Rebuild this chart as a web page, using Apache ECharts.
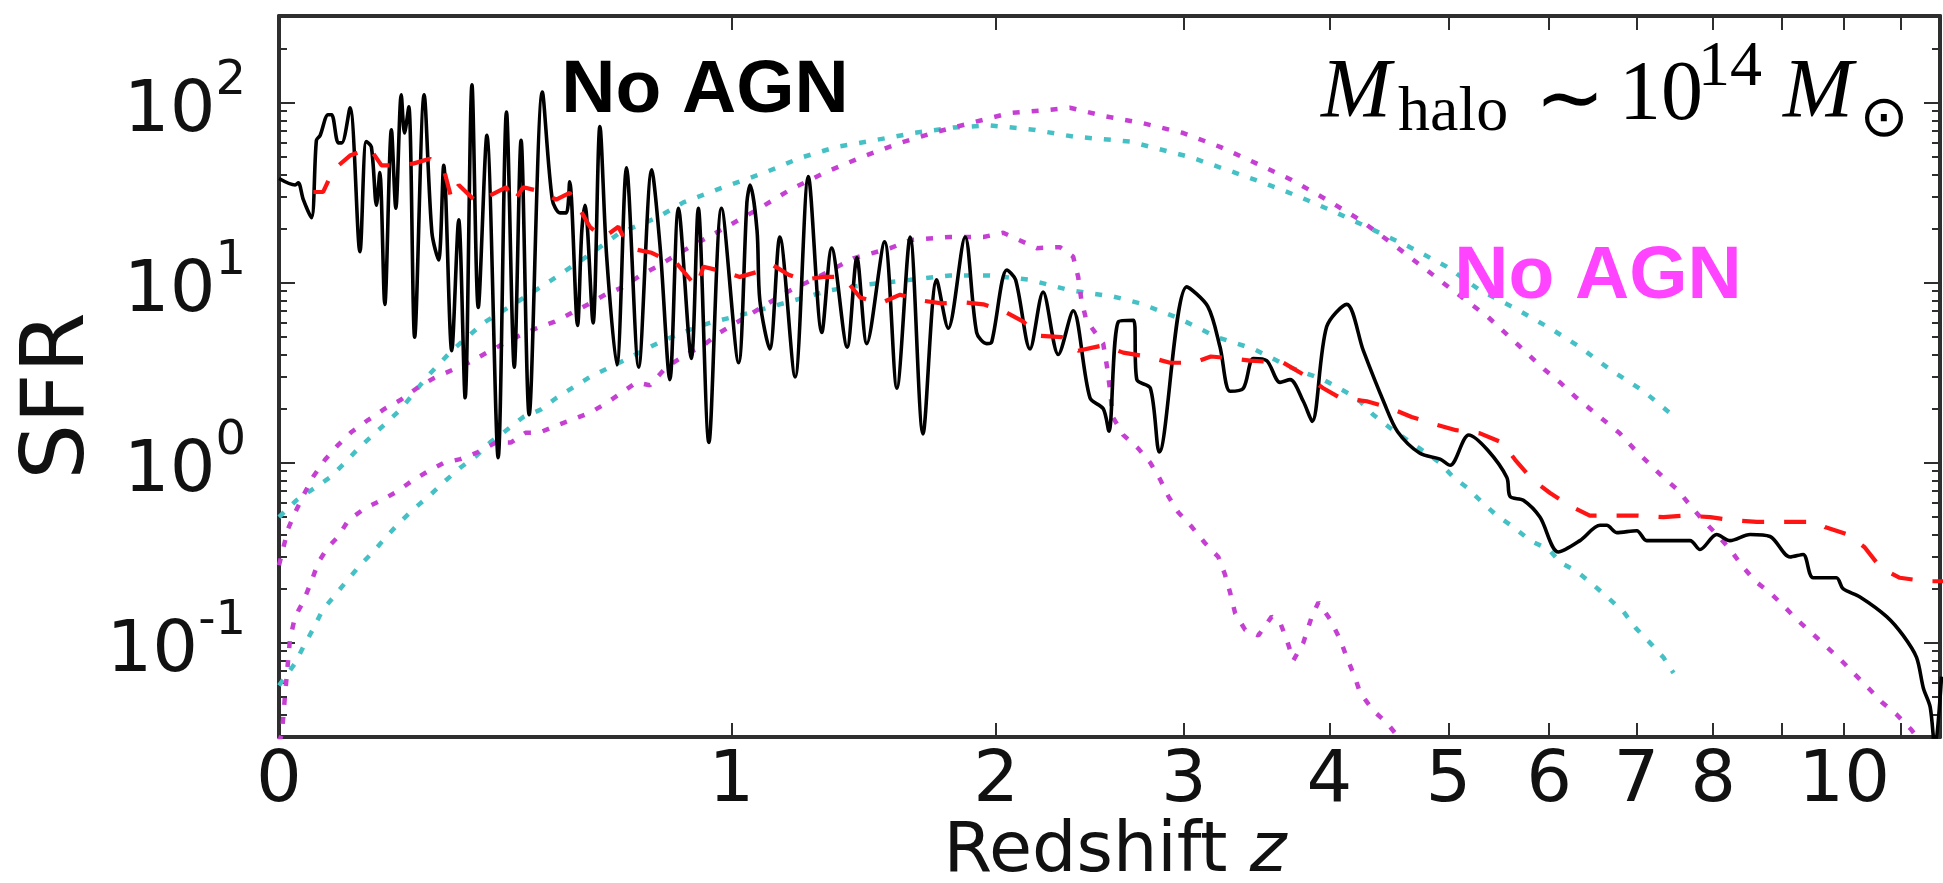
<!DOCTYPE html>
<html><head><meta charset="utf-8">
<script src="https://cdn.jsdelivr.net/npm/echarts@6/dist/echarts.min.js"></script>
<style>html,body{margin:0;padding:0;background:#fff;}#c{width:1943px;height:883px;}</style>
</head><body><div id="c"></div><script>
// ---- data: [redshift z, SFR] ----
const sfrNoAgn = [
[0.000,38],[0.025,35],[0.030,36],[0.038,29],[0.051,23],[0.059,62],[0.065,66],[0.078,86],[0.084,86],[0.095,60],
[0.101,60],[0.115,94],[0.132,14.9],[0.143,61],[0.152,57],[0.161,27],[0.167,41],[0.176,7.6],[0.188,71],[0.196,26],
[0.206,111],[0.212,68],[0.220,95],[0.231,5.0],[0.249,111],[0.264,19],[0.277,13.4],[0.287,45],[0.303,4.2],[0.317,22.4],
[0.330,2.3],[0.344,126],[0.357,7.3],[0.375,66],[0.399,1.07],[0.417,89],[0.434,3.4],[0.449,62],[0.467,1.85],[0.497,115],
[0.520,29],[0.538,24.5],[0.553,24.5],[0.561,36.5],[0.580,5.8],[0.590,19],[0.598,27],[0.618,6.0],[0.635,74],[0.652,14],
[0.678,3.5],[0.703,43.6],[0.735,3.4],[0.770,42.5],[0.793,15.8],[0.820,2.9],[0.844,26],[0.881,3.8],[0.901,26],[0.932,1.3],
[0.970,26],[1.022,3.6],[1.048,28],[1.058,35],[1.080,19.6],[1.089,8.0],[1.121,4.3],[1.154,18],[1.205,3.0],[1.250,39],
[1.297,5.3],[1.332,15.6],[1.388,4.4],[1.424,13.8],[1.461,4.6],[1.529,16.9],[1.577,2.6],[1.630,18],[1.682,1.45],[1.739,10.4],
[1.788,5.6],[1.861,18],[1.912,5.3],[1.957,4.6],[1.980,4.7],[2.050,11.8],[2.091,10.4],[2.160,4.3],[2.224,8.9],[2.300,4.0],
[2.376,7.0],[2.464,2.3],[2.535,2.0],[2.566,1.5],[2.619,6.1],[2.703,6.2],[2.722,2.9],[2.800,2.6],[2.852,1.15],[3.018,9.5],
[3.149,7.4],[3.228,4.4],[3.294,2.5],[3.382,2.6],[3.450,3.8],[3.541,3.7],[3.635,2.8],[3.707,2.9],[3.803,2.2],[3.869,1.7],
[3.978,5.7],[4.134,7.6],[4.266,4.2],[4.437,2.15],[4.550,1.49],[4.743,1.13],[4.923,1.05],[5.015,0.97],[5.189,1.43],[5.370,1.18],
[5.561,0.83],[5.594,0.65],[5.729,0.62],[5.902,0.50],[6.100,0.32],[6.339,0.37],[6.568,0.45],[6.646,0.45],[6.764,0.41],[7.006,0.42],
[7.128,0.37],[7.687,0.37],[7.820,0.33],[8.049,0.40],[8.235,0.37],[8.524,0.40],[8.820,0.39],[9.125,0.30],[9.330,0.31],[9.490,0.23],
[9.870,0.23],[9.980,0.20],[10.27,0.18],[10.74,0.14],[11.04,0.11],[11.29,0.083],[11.42,0.056],[11.55,0.044],[11.64,0.026],[11.77,0.065]
];
const sfrSmoothed = [
[0.054,32],[0.070,32],[0.087,42.5],[0.115,51],[0.149,56],[0.170,45],[0.197,45],[0.228,46],[0.260,49],[0.289,41],
[0.303,29],[0.317,35],[0.354,28],[0.375,30],[0.417,34],[0.431,28],[0.454,34],[0.497,32],[0.529,29],[0.561,31.6],
[0.586,25.5],[0.610,20.5],[0.643,17.8],[0.682,20.5],[0.699,17.3],[0.729,15.3],[0.770,14.7],[0.797,13.8],[0.838,12.9],[0.896,9.5],
[0.916,12.3],[0.980,11.5],[1.026,10.8],[1.080,11.5],[1.130,12.6],[1.183,11.1],[1.233,10.4],[1.303,10.8],[1.374,10.8],[1.436,8.3],
[1.512,7.7],[1.590,8.6],[1.670,8.0],[1.760,7.7],[1.853,7.8],[1.942,7.6],[2.033,7.0],[2.128,6.1],[2.193,5.1],[2.317,5.0],
[2.402,4.2],[2.535,4.5],[2.645,4.1],[2.780,3.9],[2.916,3.6],[3.060,3.6],[3.169,3.9],[3.316,3.8],[3.427,3.7],[3.659,3.6],
[3.803,3.1],[3.953,2.6],[4.081,2.3],[4.294,2.2],[4.466,2.04],[4.670,1.8],[4.860,1.65],[5.070,1.52],[5.297,1.46],[5.510,1.3],
[5.645,1.04],[5.820,0.81],[6.010,0.68],[6.220,0.58],[6.450,0.51],[6.740,0.51],[7.000,0.51],[7.340,0.50],[7.610,0.51],[7.960,0.50],
[8.260,0.48],[8.620,0.47],[8.920,0.47],[9.330,0.47],[9.550,0.47],[9.680,0.44],[10.06,0.40],[10.35,0.34],[10.64,0.26],[10.98,0.23],
[11.45,0.22],[11.80,0.22]
];
const cyanUpper = [
[0,0.5],[0.027,0.62],[0.057,0.73],[0.081,0.83],[0.106,1.0],[0.129,1.2],[0.155,1.43],[0.179,1.67],[0.206,2.0],[0.254,3.0],
[0.303,4.2],[0.368,6.0],[0.439,7.8],[0.519,10.4],[0.602,14],[0.686,19],[0.784,23],[0.858,28],[0.975,34],[1.105,41],
[1.222,49.5],[1.350,57],[1.490,62],[1.643,68],[1.810,73],[1.972,75],[2.176,71],[2.376,65],[2.684,61],[2.800,57],
[3.039,50],[3.272,42.5],[3.519,36],[3.779,30],[4.055,24.5],[4.347,19.7],[4.656,15.8],[4.984,12.3],[5.297,9.1],[5.628,7.3],
[6.010,5.6],[6.339,4.4],[6.685,3.3],[7.09,2.5],[7.52,1.75]
];
const cyanLower = [
[0,0.058],[0.025,0.077],[0.038,0.095],[0.054,0.12],[0.068,0.15],[0.087,0.18],[0.109,0.22],[0.132,0.27],[0.155,0.32],[0.179,0.39],
[0.204,0.47],[0.231,0.56],[0.260,0.66],[0.289,0.79],[0.320,0.94],[0.354,1.1],[0.382,1.3],[0.414,1.5],[0.454,1.8],[0.492,1.97],
[0.53,2.3],[0.610,3.0],[0.695,3.7],[0.793,4.7],[0.887,5.6],[0.935,6.0],[1.053,6.8],[1.178,7.8],[1.326,9.1],[1.461,9.8],
[1.630,10.4],[1.796,11.0],[1.972,11.0],[2.160,10.4],[2.359,9.1],[2.590,8.4],[2.741,7.7],[2.963,6.4],[3.207,5.0],[3.450,4.3],
[3.707,3.4],[3.953,2.9],[4.211,2.3],[4.347,1.85],[4.522,1.5],[4.743,1.2],[4.923,1.0],[5.046,0.83],[5.172,0.73],[5.297,0.62],
[5.460,0.51],[5.628,0.44],[5.80,0.37],[6.0,0.33],[6.118,0.28],[6.30,0.25],[6.49,0.21],[6.65,0.18],[6.84,0.15],[7.0,0.12],
[7.17,0.10],[7.34,0.083],[7.47,0.068]
];
const magentaUpper = [
[0,0.27],[0.014,0.43],[0.025,0.53],[0.038,0.66],[0.054,0.84],[0.073,1.04],[0.095,1.26],[0.118,1.49],[0.146,1.73],[0.176,2.0],
[0.206,2.25],[0.235,2.6],[0.267,2.95],[0.337,3.6],[0.375,4.1],[0.411,4.6],[0.446,5.1],[0.484,5.6],[0.526,6.1],[0.565,6.8],
[0.610,7.7],[0.652,8.7],[0.695,9.5],[0.739,11],[0.784,12.3],[0.830,14],[0.876,15.8],[0.926,17.8],[0.975,20],[1.080,25.5],
[1.189,33],[1.315,41.5],[1.449,50.5],[1.590,60],[1.739,69],[1.897,78],[2.065,88],[2.258,91.5],[2.359,94],[2.552,84],
[2.760,77],[2.997,68],[3.228,57],[3.473,46],[3.719,37.3],[3.978,29],[4.239,22.4],[4.522,16.2],[4.801,11.8],[5.071,8.8],
[5.370,6.5],[5.661,4.6],[5.95,3.3],[6.118,2.8],[6.30,2.3],[6.45,2.0],[6.80,1.46],[6.97,1.2],[7.15,1.0],[7.34,0.83],
[7.52,0.71],[7.69,0.58],[7.86,0.48],[8.05,0.40],[8.24,0.33],[8.40,0.27],[8.60,0.22],[8.82,0.19],[9.03,0.16],[9.23,0.135],
[9.46,0.114],[9.71,0.095],[9.95,0.08],[10.20,0.066],[10.42,0.056],[10.65,0.047],[10.92,0.04],[11.19,0.033],[11.30,0.030]
];
const magentaLower = [
[0,0.028],[0.004,0.031],[0.007,0.04],[0.009,0.05],[0.017,0.105],[0.025,0.14],[0.038,0.17],[0.051,0.22],[0.062,0.28],[0.078,0.34],
[0.095,0.39],[0.112,0.48],[0.141,0.56],[0.170,0.62],[0.197,0.69],[0.225,0.79],[0.254,0.89],[0.287,1.0],[0.320,1.05],[0.354,1.14],
[0.395,1.3],[0.427,1.3],[0.459,1.47],[0.489,1.47],[0.526,1.6],[0.565,1.73],[0.610,1.9],[0.652,2.15],[0.729,2.8],[0.765,2.7],
[0.810,3.4],[0.866,4.0],[0.916,4.5],[0.965,5.3],[1.053,6.6],[1.172,8.8],[1.285,10.8],[1.411,13.7],[1.551,15.6],[1.630,17.3],
[1.796,18],[1.942,18],[2.033,19],[2.193,15.6],[2.308,15.8],[2.376,14],[2.402,10.8],[2.419,8.0],[2.445,6.2],[2.535,4.6],
[2.556,3.4],[2.571,2.6],[2.587,1.8],[2.645,1.43],[2.731,1.2],[2.800,1.0],[2.857,0.81],[2.907,0.65],[2.967,0.53],[3.05,0.44],
[3.13,0.36],[3.217,0.30],[3.26,0.24],[3.294,0.19],[3.327,0.146],[3.394,0.118],[3.484,0.11],[3.576,0.14],[3.635,0.13],[3.683,0.104],
[3.731,0.08],[3.803,0.1],[3.866,0.14],[3.916,0.168],[4.005,0.135],[4.081,0.105],[4.134,0.083],[4.20,0.064],[4.239,0.053],[4.347,0.042],
[4.458,0.036],[4.556,0.030],[4.6,0.028]
];
// ---- axes ----
const xTickZ = [0,1,2,3,4,5,6,7,8,9,10,11];
const xLabelZ = [0,1,2,3,4,5,6,7,8,10];
const zRange = [0, 11.74];
const yRange = [0.03, 304];
const yMajor = [0.1, 1, 10, 100];
const yMinor = [0.03,0.04,0.05,0.06,0.07,0.08,0.09,0.2,0.3,0.4,0.5,0.6,0.7,0.8,0.9,2,3,4,5,6,7,8,9,20,30,40,50,60,70,80,90,200,300];

const toXY = arr => arr.map(p => [1 + p[0], p[1]]);
const AX = '#2e2e2e';
const TXT = '#111';

function xAxisDef(pos, showLabel) {
  return {
    type: 'log', logBase: 10, min: 1 + zRange[0], max: 1 + zRange[1], position: pos,
    axisLine: { show: true, lineStyle: { color: AX, width: 4 } },
    axisTick: { show: true, inside: true, length: 14, customValues: xTickZ.map(z => 1 + z), lineStyle: { color: AX, width: 2 } },
    axisLabel: showLabel ? {
      show: true, customValues: xLabelZ.map(z => 1 + z),
      formatter: v => String(Math.round(v - 1)),
      fontSize: 72, fontFamily: 'DejaVu Sans', color: TXT, margin: 9
    } : { show: false },
    splitLine: { show: false }, minorTick: { show: false }, minorSplitLine: { show: false }
  };
}
function yAxisDef(pos, major, showLabel) {
  const def = {
    type: 'log', logBase: 10, min: yRange[0], max: yRange[1], position: pos,
    axisLine: { show: major, lineStyle: { color: AX, width: 4 } },
    axisTick: { show: true, inside: true, length: major ? 16 : 8, customValues: major ? yMajor : yMinor, lineStyle: { color: AX, width: 2 } },
    axisLabel: { show: false },
    splitLine: { show: false }, minorTick: { show: false }, minorSplitLine: { show: false }
  };
  if (showLabel) {
    def.axisLabel = {
      show: true, customValues: yMajor, margin: 33,
      formatter: v => '{b|10}{s|' + Math.round(Math.log10(v)) + '}',
      rich: {
        b: { fontSize: 72, fontFamily: 'DejaVu Sans', color: TXT, verticalAlign: 'bottom' },
        s: { fontSize: 48, fontFamily: 'DejaVu Sans', color: TXT, verticalAlign: 'top', padding: [0, 0, 42, 0] }
      }
    };
  }
  return def;
}
function lineSeries(data, color, width, type, z, smooth) {
  return {
    type: 'line', data: toXY(data), xAxisIndex: 0, yAxisIndex: 0,
    showSymbol: false, symbol: 'none', smooth: smooth || false, clip: true, z: z,
    lineStyle: { color: color, width: width, type: type, cap: 'butt' }
  };
}
const CYAN = '#45c1c6', MAG = '#c63fd3';
const chart = echarts.init(document.getElementById('c'), null, { renderer: 'canvas' });
chart.setOption({
  animation: false,
  backgroundColor: '#ffffff',
  grid: { left: 279, right: 3, top: 16, bottom: 146, containLabel: false },
  xAxis: [xAxisDef('bottom', true), xAxisDef('top', false)],
  yAxis: [yAxisDef('left', true, true), yAxisDef('left', false, false), yAxisDef('right', true, false), yAxisDef('right', false, false)],
  series: [
    lineSeries(cyanUpper, CYAN, 4.5, [7, 12], 2),
    lineSeries(cyanLower, CYAN, 4.5, [7, 12], 2),
    lineSeries(magentaUpper, MAG, 4.5, [7, 12], 3),
    lineSeries(magentaLower, MAG, 4.5, [7, 12], 3),
    lineSeries(sfrNoAgn, '#000000', 3.6, 'solid', 4, 0.3),
    lineSeries(sfrSmoothed, '#ff1414', 4.2, [22, 20], 5)
  ],
  graphic: [
    { type: 'text', x: 705, y: 91, z: 10, style: { text: 'No AGN', fontSize: 75, fontWeight: 'bold', fontFamily: 'Liberation Sans', fill: '#000', align: 'center', verticalAlign: 'middle' } },
    { type: 'text', x: 1598, y: 277, z: 10, style: { text: 'No AGN', fontSize: 75, fontWeight: 'bold', fontFamily: 'Liberation Sans', fill: '#ff44ff', align: 'center', verticalAlign: 'middle' } },
    { type: 'text', x: 1321, y: 95, z: 10, style: { text: 'M', fontSize: 84, fontStyle: 'italic', fontFamily: 'Liberation Serif', fill: '#000', align: 'left', verticalAlign: 'middle' } },
    { type: 'text', x: 1398, y: 113, z: 10, style: { text: 'halo', fontSize: 64, fontFamily: 'Liberation Serif', fill: '#000', align: 'left', verticalAlign: 'middle' } },
    { type: 'text', x: 1570, y: 104, z: 10, style: { text: '\u223C', fontSize: 84, fontFamily: 'DejaVu Sans', fill: '#000', align: 'center', verticalAlign: 'middle' } },
    { type: 'text', x: 1619, y: 97, z: 10, style: { text: '10', fontSize: 84, fontFamily: 'Liberation Serif', fill: '#000', align: 'left', verticalAlign: 'middle' } },
    { type: 'text', x: 1698, y: 68, z: 10, style: { text: '14', fontSize: 64, fontFamily: 'Liberation Serif', fill: '#000', align: 'left', verticalAlign: 'middle' } },
    { type: 'text', x: 1783, y: 95, z: 10, style: { text: 'M', fontSize: 84, fontStyle: 'italic', fontFamily: 'Liberation Serif', fill: '#000', align: 'left', verticalAlign: 'middle' } },
    { type: 'text', x: 1884, y: 121, z: 10, style: { text: '\u2299', fontSize: 58, fontFamily: 'DejaVu Sans', fill: '#000', align: 'center', verticalAlign: 'middle' } },
    { type: 'text', x: 60, y: 396, rotation: Math.PI / 2, z: 10, style: { text: 'SFR', fontSize: 88, fontFamily: 'DejaVu Sans', fill: TXT, align: 'center', verticalAlign: 'middle' } },
    { type: 'text', x: 1115, y: 853, z: 10, style: { text: '{a|Redshift }{i|z}', align: 'center', verticalAlign: 'middle',
        rich: { a: { fontSize: 70, fontFamily: 'DejaVu Sans', fill: TXT }, i: { fontSize: 70, fontFamily: 'DejaVu Sans', fontStyle: 'italic', fill: TXT } } } }
  ]
});
</script></body></html>
